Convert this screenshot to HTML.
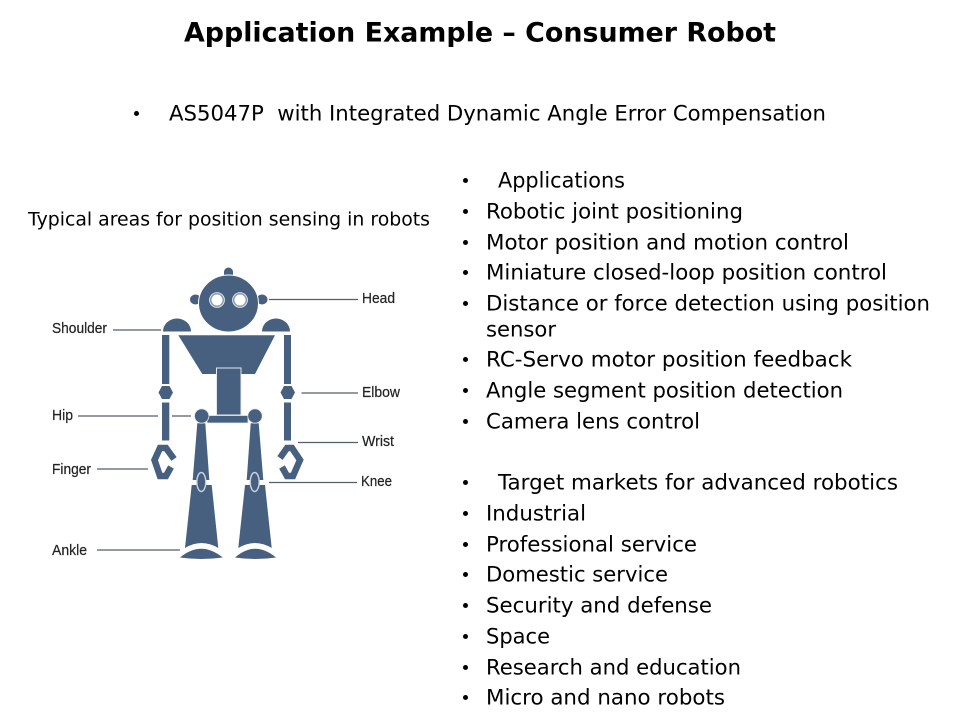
<!DOCTYPE html>
<html><head><meta charset="utf-8"><title>Application Example – Consumer Robot</title>
<style>
html,body{margin:0;padding:0;background:#fff;width:960px;height:720px;overflow:hidden}
svg{display:block}
text{font-family:"DejaVu Sans","Liberation Sans",sans-serif;fill:#000;white-space:pre}
.b{font-size:21px}
.l{font-family:"Liberation Sans",sans-serif;font-size:14.5px;fill:#222;stroke:#222;stroke-width:.2}
.d{fill:#000}
</style></head><body>
<svg width="960" height="720" viewBox="0 0 960 720" xmlns="http://www.w3.org/2000/svg">
<defs><filter id="s" x="-5%" y="-5%" width="110%" height="110%"><feGaussianBlur stdDeviation="0.35"/></filter></defs>
<rect width="960" height="720" fill="#fff"/>
<text x="184" y="41.500" font-size="26.500" font-weight="700" textLength="592" lengthAdjust="spacingAndGlyphs">Application Example – Consumer Robot</text>
<circle class="d" cx="136.500" cy="113.500" r="2.500"/>
<text class="b" x="169" y="120.500" textLength="657" lengthAdjust="spacingAndGlyphs">AS5047P  with Integrated Dynamic Angle Error Compensation</text>
<text x="28" y="225.500" font-size="19" textLength="402" lengthAdjust="spacingAndGlyphs">Typical areas for position sensing in robots</text>

<g class="d">
<circle cx="465.500" cy="180.500" r="2.500"/><circle cx="465.500" cy="211.500" r="2.500"/><circle cx="465.500" cy="242.500" r="2.500"/><circle cx="465.500" cy="272.500" r="2.500"/><circle cx="465.500" cy="303.500" r="2.500"/><circle cx="465.500" cy="359.500" r="2.500"/><circle cx="465.500" cy="390.500" r="2.500"/><circle cx="465.500" cy="421.500" r="2.500"/>
<circle cx="465.500" cy="482.500" r="2.500"/><circle cx="465.500" cy="513.500" r="2.500"/><circle cx="465.500" cy="544.500" r="2.500"/><circle cx="465.500" cy="574.500" r="2.500"/><circle cx="465.500" cy="605.500" r="2.500"/><circle cx="465.500" cy="636.500" r="2.500"/><circle cx="465.500" cy="667.500" r="2.500"/><circle cx="465.500" cy="697.500" r="2.500"/>
</g>
<g>
<text class="b" x="498" y="187.500" textLength="127" lengthAdjust="spacingAndGlyphs">Applications</text>
<text class="b" x="486" y="218.500" textLength="257" lengthAdjust="spacingAndGlyphs">Robotic joint positioning</text>
<text class="b" x="486" y="249.500" textLength="363" lengthAdjust="spacingAndGlyphs">Motor position and motion control</text>
<text class="b" x="486" y="279.500" textLength="401" lengthAdjust="spacingAndGlyphs">Miniature closed-loop position control</text>
<text class="b" x="486" y="310.500" textLength="444" lengthAdjust="spacingAndGlyphs">Distance or force detection using position</text>
<text class="b" x="486" y="336.500" textLength="70" lengthAdjust="spacingAndGlyphs">sensor</text>
<text class="b" x="486" y="366.500" textLength="366" lengthAdjust="spacingAndGlyphs">RC-Servo motor position feedback</text>
<text class="b" x="486" y="397.500" textLength="357" lengthAdjust="spacingAndGlyphs">Angle segment position detection</text>
<text class="b" x="486" y="428.500" textLength="214" lengthAdjust="spacingAndGlyphs">Camera lens control</text>
<text class="b" x="498" y="489.500" textLength="400" lengthAdjust="spacingAndGlyphs">Target markets for advanced robotics</text>
<text class="b" x="486" y="520.500" textLength="100" lengthAdjust="spacingAndGlyphs">Industrial</text>
<text class="b" x="486" y="551.500" textLength="211" lengthAdjust="spacingAndGlyphs">Professional service</text>
<text class="b" x="486" y="581.500" textLength="182" lengthAdjust="spacingAndGlyphs">Domestic service</text>
<text class="b" x="486" y="612.500" textLength="226" lengthAdjust="spacingAndGlyphs">Security and defense</text>
<text class="b" x="486" y="643.500" textLength="64" lengthAdjust="spacingAndGlyphs">Space</text>
<text class="b" x="486" y="674.500" textLength="255" lengthAdjust="spacingAndGlyphs">Research and education</text>
<text class="b" x="486" y="704.500" textLength="239" lengthAdjust="spacingAndGlyphs">Micro and nano robots</text>
</g>

<!-- leader lines -->
<g stroke="#555e6b" stroke-width="1.300" fill="none">
<path d="M269 299.500H358M113 330H161M78 416H158M172 416H191M97 469H148M97 550H180M301.500 393H358M298 442.500H358M269 482.500H357"/>
</g>

<!-- labels -->
<text class="l" x="52" y="333" textLength="55" lengthAdjust="spacingAndGlyphs">Shoulder</text>
<text class="l" x="52" y="420" textLength="21" lengthAdjust="spacingAndGlyphs">Hip</text>
<text class="l" x="52" y="474" textLength="39" lengthAdjust="spacingAndGlyphs">Finger</text>
<text class="l" x="52" y="555" textLength="35" lengthAdjust="spacingAndGlyphs">Ankle</text>
<text class="l" x="362" y="303" textLength="33" lengthAdjust="spacingAndGlyphs">Head</text>
<text class="l" x="362" y="397" textLength="38" lengthAdjust="spacingAndGlyphs">Elbow</text>
<text class="l" x="362" y="446" textLength="32" lengthAdjust="spacingAndGlyphs">Wrist</text>
<text class="l" x="361" y="486" textLength="31" lengthAdjust="spacingAndGlyphs">Knee</text>

<!-- robot -->
<g fill="#47607f" filter="url(#s)">
<path d="M224 277v-5a4.500 4.500 0 0 1 9 0v5z"/>
<ellipse cx="195.500" cy="299.500" rx="5.500" ry="5"/>
<ellipse cx="262" cy="299.500" rx="5.500" ry="5"/>
<ellipse cx="228.500" cy="303.500" rx="30" ry="28.500" stroke="#fff" stroke-width="1"/>
<g fill="#fff"><circle cx="217" cy="300" r="7.800"/><circle cx="240" cy="300" r="7.800"/></g>
<g fill="none" stroke="#8d9db2" stroke-width="1.600"><circle cx="217" cy="300" r="6.300"/><circle cx="240" cy="300" r="6.300"/></g>
<g fill="#fff"><circle cx="217" cy="300" r="3.800"/><circle cx="240" cy="300" r="3.800"/></g>
<path d="M163 331.500a14 13 0 0 1 28 0z"/>
<path d="M262 331.500a14 13 0 0 1 28 0z"/>
<rect x="162" y="335" width="7.300" height="49"/>
<rect x="284" y="335" width="7" height="49"/>
<rect x="162" y="402.500" width="7.300" height="38"/>
<rect x="284" y="402.500" width="7" height="38"/>
<path d="M162 386h7.500l3.500 6.500-3.500 6.500H162l-3.500-6.500z"/>
<path d="M284 386h7.500l3.500 6.500-3.500 6.500H284l-3.500-6.500z"/>
<path d="M178.300 335.300H275L255 374H202.300z"/>
<rect x="216.500" y="368" width="24.500" height="47" stroke="#e4e9ef" stroke-width="1"/>
<path d="M197.300 423.300h8L209.300 480H192.700z"/>
<path d="M250.700 423.300h8L263.300 480H246.700z"/>
<rect x="207" y="415.500" width="41" height="7.500" stroke="#e4e9ef" stroke-width=".8"/>
<circle cx="201.700" cy="416" r="7.200" stroke="#e4e9ef" stroke-width=".8"/>
<circle cx="255" cy="416" r="7.200" stroke="#e4e9ef" stroke-width=".8"/>
<path d="M191.700 485h20L218.300 548Q201.500 538 185 548z"/>
<path d="M245 485h20L271.700 548Q255 538 238.300 548z"/>
<ellipse cx="201.300" cy="482" rx="4.500" ry="9.500" stroke="#c9d3df" stroke-width="1.400"/>
<ellipse cx="254.700" cy="482" rx="4.500" ry="9.500" stroke="#c9d3df" stroke-width="1.400"/>
<path d="M180 557.500Q201 540 222.700 557.500Q201 560.500 180 557.500z"/>
<path d="M235 557.500Q255 540 276 557.500Q255 560.500 235 557.500z"/>
<g fill="none" stroke="#47607f" stroke-width="6.500" stroke-linejoin="miter">
<path d="M174 459L166 448H160L154.500 460L160 476H166L171 467"/>
<path d="M280 458L287 448H292L300 460L293 476H287L282 467"/>
</g>
</g>
</svg>
</body></html>
